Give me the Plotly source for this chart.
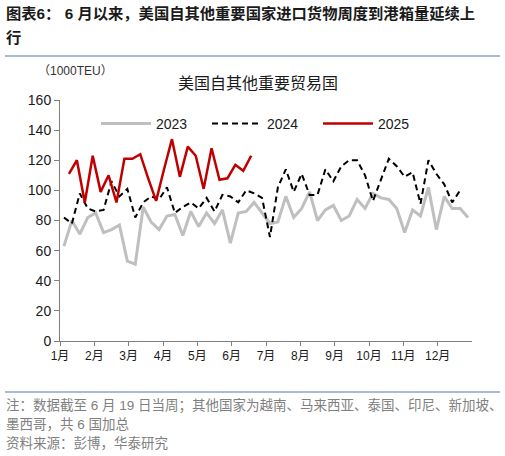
import numpy as np
import plotly.graph_objects as go

# weekly arrivals, 1000 TEU
y2023 = [63, 80, 71, 82, 85, 72, 74, 77, 53, 51, 89, 79, 74, 83, 84, 70, 86, 76, 85, 78,
         87, 65, 85, 86, 92, 85, 78, 79, 96, 82, 88, 99, 80, 87, 90, 80, 83, 94, 88, 98,
         95, 94, 88, 72, 87, 83, 102, 74, 96, 88, 88, 82]
y2024 = [82, 78, 98, 88, 86, 87, 106, 96, 101, 82, 92, 96, 94, 102, 85, 89, 92, 88, 95, 86,
         97, 96, 92, 100, 98, 95, 69, 102, 114, 99, 111, 97, 97, 114, 106, 116, 120, 120, 110, 93,
         107, 121, 116, 109, 112, 91, 120, 111, 104, 92, 100]
y2025 = [111, 120, 92, 123, 99, 110, 92, 121, 121, 124, 108, 93, 114, 134, 109, 129, 123, 101,
         128, 107, 108, 117, 113, 123]
months = ['1月', '2月', '3月', '4月', '5月', '6月', '7月', '8月', '9月', '10月', '11月', '12月']

# week position within the year (2025 weeks end a few days later)
week_offset = {'2023': 0.5, '2024': 0.5, '2025': 1.13}

W, H = 505, 456
L, R, T, B = 60, 33, 100, 115


def px(x):
    return (x - L) / (W - L - R)


def py(y):
    return (H - B - y) / (H - T - B)


fig = go.Figure()
fig.add_trace(go.Scatter(x=np.arange(len(y2023)) + week_offset['2023'], y=y2023, name='2023',
                         mode='lines', line=dict(color='#BFBFBF', width=3)))
fig.add_trace(go.Scatter(x=np.arange(len(y2024)) + week_offset['2024'], y=y2024, name='2024',
                         mode='lines', line=dict(color='#000000', width=2, dash='6px,4px')))
fig.add_trace(go.Scatter(x=np.arange(len(y2025)) + week_offset['2025'], y=y2025, name='2025',
                         mode='lines', line=dict(color='#C00000', width=2.5)))

cjk = 'Noto Sans CJK SC'
grey = '#808080'

notes = ['注：数据截至 6 月 19 日当周；其他国家为越南、马来西亚、泰国、印尼、新加坡、',
         '墨西哥，共 6 国加总',
         '资料来源：彭博，华泰研究']
annotations = [
    dict(text='<b>图表6： 6 月以来，美国自其他重要国家进口货物周度到港箱量延续上</b>',
         x=px(4), y=py(14), font=dict(size=15.3, color='#1a1a1a')),
    dict(text='<b>行</b>', x=px(4), y=py(37), font=dict(size=15.3, color='#1a1a1a')),
    dict(text='（1000TEU）', x=px(36), y=py(71), font=dict(size=12, color='#333333')),
    dict(text='美国自其他重要贸易国', x=px(258), y=py(83), xanchor='center',
         font=dict(size=16, color='#1a1a1a')),
]
for i, t in enumerate(notes):
    annotations.append(dict(text=t, x=px(4), y=py(405 + 19 * i), font=dict(size=13.5, color=grey)))
for a in annotations:
    a.setdefault('xanchor', 'left')
    a.update(xref='paper', yref='paper', yanchor='middle', showarrow=False)

fig.update_layout(
    width=W, height=H,
    margin=dict(l=L, r=R, t=T, b=B),
    paper_bgcolor='white', plot_bgcolor='white',
    font=dict(family='Liberation Sans, ' + cjk, size=13, color='#1a1a1a'),
    annotations=annotations,
    shapes=[
        dict(type='line', xref='paper', yref='paper', x0=px(5), x1=px(500), y0=py(56), y1=py(56),
             line=dict(color='#8DA4C4', width=1.5)),
        dict(type='line', xref='paper', yref='paper', x0=px(5), x1=px(500), y0=py(392), y1=py(392),
             line=dict(color='#8DA4C4', width=1.5)),
    ],
    legend=dict(orientation='h', x=px(96), y=py(124), xanchor='left', yanchor='middle',
                font=dict(size=14), itemwidth=50, entrywidth=46, entrywidthmode='pixels',
                bgcolor='rgba(0,0,0,0)'),
    xaxis=dict(range=[0, 52], tickvals=[m * 52 / 12 for m in range(12)], ticktext=months,
               showgrid=False, zeroline=False, showline=True, linecolor='#7f7f7f', linewidth=1,
               ticks='outside', ticklen=4, tickcolor='#7f7f7f', tickfont=dict(size=12)),
    yaxis=dict(range=[0, 160], dtick=20, showgrid=False, zeroline=False, showline=True,
               linecolor='#7f7f7f', linewidth=1, ticks='outside', ticklen=5, tickcolor='#7f7f7f',
               tickfont=dict(size=14)),
)

fig.write_html('out.html', config={'displayModeBar': False},
               post_script="document.body.style.margin='0';")
